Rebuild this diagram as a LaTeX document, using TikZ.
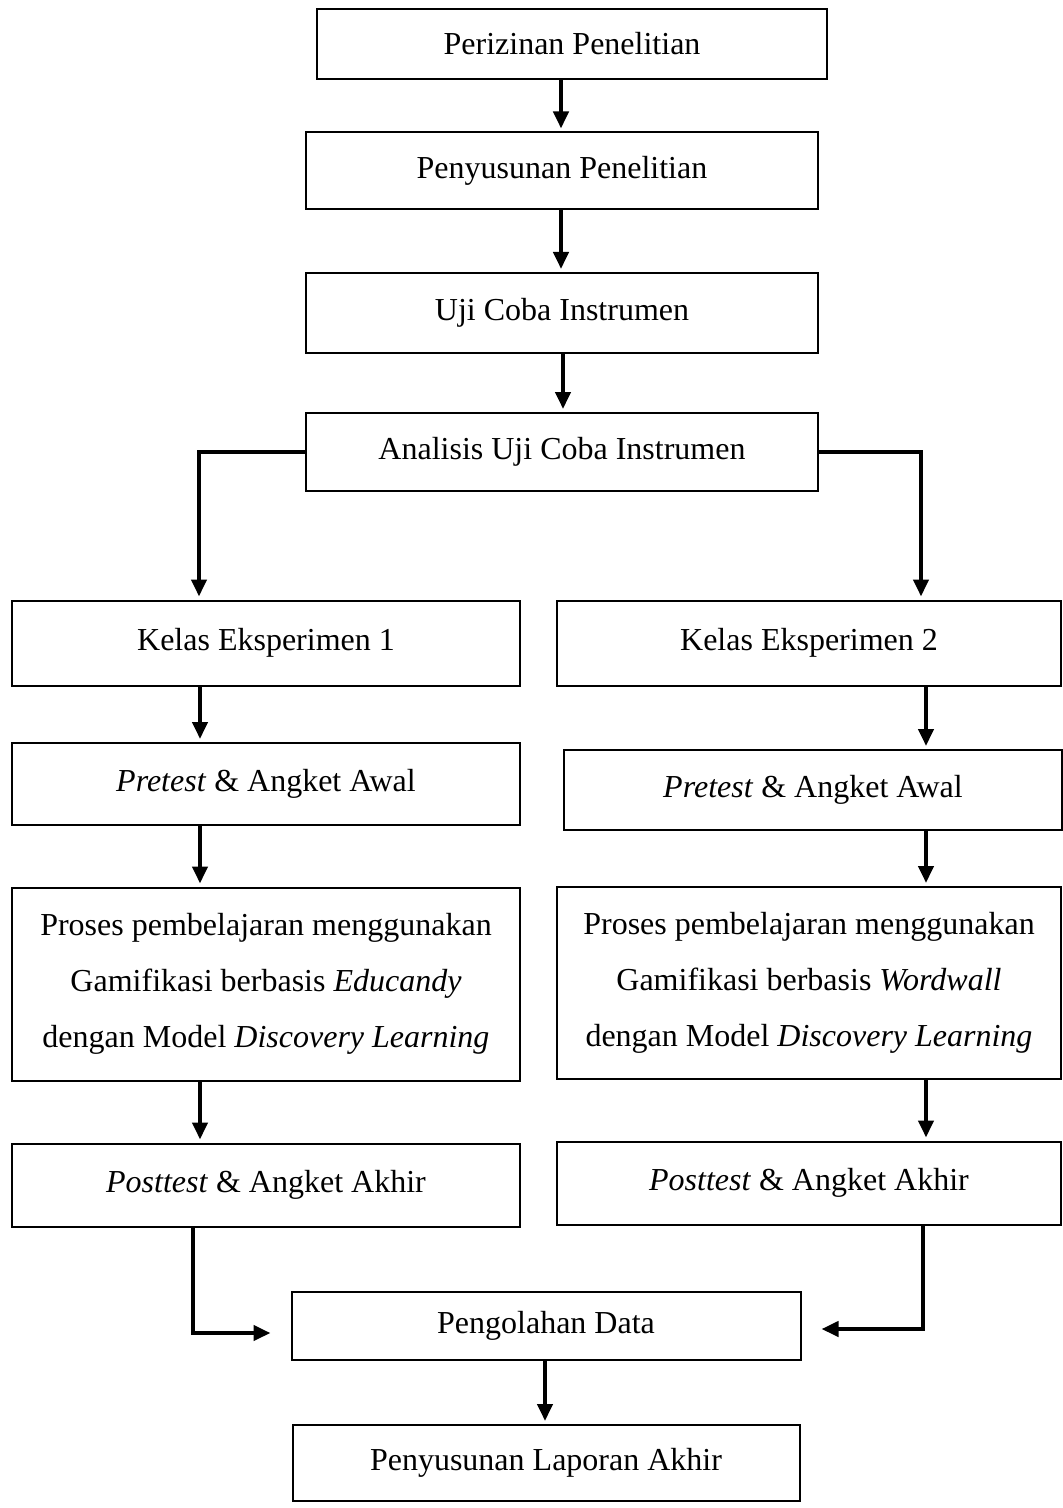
\documentclass[tikz,border=0pt]{standalone}
\usepackage{fontspec}
\setmainfont{Liberation Serif}
\usetikzlibrary{arrows.meta,calc}
\tikzset{
  box/.style={draw, line width=1pt, inner sep=0pt, align=center,
    font=\fontsize{16}{28}\selectfont},
  arr/.style={line width=2pt, -{Triangle[width=7.5pt,length=8.5pt]}, shorten >=1.5pt},
}
\begin{document}
\begin{tikzpicture}[x=0.5pt,y=-0.5pt]
\useasboundingbox (0,0) rectangle (1062,1508);
% boxes (centres in px, sizes in pt = px/2)
\node[box, minimum width=255pt, minimum height=35pt] (b1) at (572,44) {Perizinan Penelitian};
\node[box, minimum width=256pt, minimum height=38.5pt] (b2) at (562,171) {Penyusunan Penelitian};
\node[box, minimum width=256pt, minimum height=40pt] (b3) at (562,313) {Uji Coba Instrumen};
\node[box, minimum width=256pt, minimum height=39pt] (b4) at (562,452) {Analisis Uji Coba Instrumen};
\node[box, minimum width=254pt, minimum height=42.5pt] (b5l) at (266,643) {Kelas Eksperimen 1};
\node[box, minimum width=252pt, minimum height=42.5pt] (b5r) at (809,643) {Kelas Eksperimen 2};
\node[box, minimum width=254pt, minimum height=41pt] (b6l) at (266,784) {\textit{Pretest} \& Angket Awal};
\node[box, minimum width=249pt, minimum height=40pt] (b6r) at (813,790) {\textit{Pretest} \& Angket Awal};
\node[box, minimum width=254pt, minimum height=96.5pt] (b7l) at (266,984)
  {Proses pembelajaran menggunakan\\Gamifikasi berbasis \textit{Educandy}\\dengan Model \textit{Discovery Learning}};
\node[box, minimum width=252pt, minimum height=96pt] (b7r) at (809,983)
  {Proses pembelajaran menggunakan\\Gamifikasi berbasis \textit{Wordwall}\\dengan Model \textit{Discovery Learning}};
\node[box, minimum width=254pt, minimum height=41.5pt] (b8l) at (266,1185) {\textit{Posttest} \& Angket Akhir};
\node[box, minimum width=252pt, minimum height=41.5pt] (b8r) at (809,1183) {\textit{Posttest} \& Angket Akhir};
\node[box, minimum width=254.5pt, minimum height=34pt] (b9) at (546,1326) {Pengolahan Data};
\node[box, minimum width=253.5pt, minimum height=38pt] (b10) at (546,1463) {Penyusunan Laporan Akhir};
% helper coordinates for connector columns / rows
\coordinate (xa) at (561,0);
\coordinate (xb) at (563,0);
\coordinate (xl) at (200,0);
\coordinate (xr) at (926,0);
\coordinate (xl2) at (199,0);
\coordinate (xr2) at (921,0);
\coordinate (xbl) at (193,0);
\coordinate (xbr) at (923,0);
\coordinate (xp) at (545,0);
\coordinate (yl) at (0,1333);
\coordinate (yr) at (0,1329);
% connectors
\draw[arr] (b1.south -| xa) -- (b2.north -| xa);
\draw[arr] (b2.south -| xa) -- (b3.north -| xa);
\draw[arr] (b3.south -| xb) -- (b4.north -| xb);
\draw[arr] (b4.west) -- (b4.west -| xl2) -- (b5l.north -| xl2);
\draw[arr] (b4.east) -- (b4.east -| xr2) -- (b5r.north -| xr2);
\draw[arr] (b5l.south -| xl) -- (b6l.north -| xl);
\draw[arr] (b5r.south -| xr) -- (b6r.north -| xr);
\draw[arr] (b6l.south -| xl) -- (b7l.north -| xl);
\draw[arr] (b6r.south -| xr) -- (b7r.north -| xr);
\draw[arr] (b7l.south -| xl) -- (b8l.north -| xl);
\draw[arr] (b7r.south -| xr) -- (b8r.north -| xr);
\draw[arr, shorten >=10pt] (b8l.south -| xbl) -- (xbl |- yl) -- (b9.west |- yl);
\draw[arr, shorten >=10pt] (b8r.south -| xbr) -- (xbr |- yr) -- (b9.east |- yr);
\draw[arr] (b9.south -| xp) -- (b10.north -| xp);
\end{tikzpicture}
\end{document}
